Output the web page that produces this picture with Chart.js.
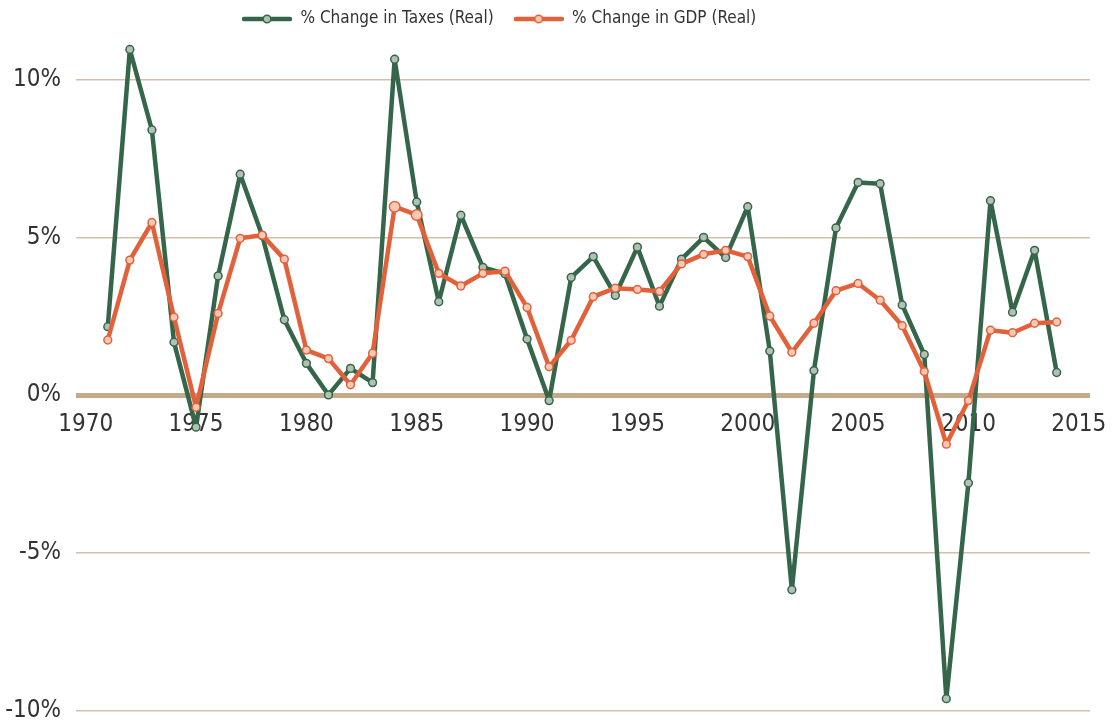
<!DOCTYPE html>
<html><head><meta charset="utf-8">
<script src="https://cdn.jsdelivr.net/npm/chart.js@4.4.1/dist/chart.umd.min.js"></script>
<style>html,body{margin:0;padding:0;background:#fff;overflow:hidden}#wrap{width:1117px;height:721px;position:relative}</style>
</head><body><div id="wrap"><canvas id="c"></canvas></div>
<script>
const years = [1971,1972,1973,1974,1975,1976,1977,1978,1979,1980,1981,1982,1983,1984,1985,1986,1987,1988,1989,1990,1991,1992,1993,1994,1995,1996,1997,1998,1999,2000,2001,2002,2003,2004,2005,2006,2007,2008,2009,2010,2011,2012,2013,2014];
const taxesReal = [2.17,10.95,8.40,1.68,-1.01,3.78,7.00,5.05,2.39,1.01,0.01,0.85,0.40,10.64,6.12,2.96,5.70,4.05,3.85,1.78,-0.17,3.73,4.39,3.16,4.69,2.82,4.31,5.00,4.36,5.97,1.40,-6.16,0.78,5.30,6.74,6.70,2.86,1.29,-9.61,-2.78,6.16,2.63,4.59,0.72];
const gdpReal = [1.75,4.28,5.47,2.47,-0.38,2.59,4.97,5.07,4.31,1.43,1.16,0.33,1.33,5.97,5.71,3.86,3.46,3.86,3.93,2.78,0.90,1.74,3.12,3.39,3.35,3.29,4.16,4.46,4.59,4.39,2.51,1.36,2.28,3.31,3.54,3.01,2.20,0.75,-1.55,-0.17,2.06,1.98,2.28,2.32];
const seriesLabels = ['% Change in Taxes (Real)', '% Change in GDP (Real)'];
const xTickValues = [1970,1975,1980,1985,1990,1995,2000,2005,2010,2015];
const yTickValues = [-10,-5,0,5,10];
const highlightedYears = [1984,1985];

const GREEN = '#35664a', GREEN_FILL = '#b2c1b3';
const ORANGE = '#e2603a', ORANGE_FILL = '#f8c9b5';
const TEXT = '#333333';
const FONT = "'DejaVu Sans Condensed', 'Liberation Sans Narrow', sans-serif";

function legendIcon(line, fill) {
  const c = document.createElement('canvas');
  c.width = 50; c.height = 14;
  const g = c.getContext('2d');
  g.strokeStyle = line; g.lineWidth = 4.5; g.lineCap = 'round';
  g.beginPath(); g.moveTo(2, 7); g.lineTo(48, 7); g.stroke();
  g.beginPath(); g.arc(25, 7, 3.8, 0, Math.PI * 2);
  g.fillStyle = fill; g.fill(); g.lineWidth = 1.5; g.stroke();
  return c;
}
const icons = [legendIcon(GREEN, GREEN_FILL), legendIcon(ORANGE, ORANGE_FILL)];

const legendPlacer = {
  id: 'legendPlacer',
  afterLayout(chart) {
    const lg = chart.legend;
    if (!lg) return;
    const pad = lg.options.labels.padding;
    const w = lg.right - lg.left;
    lg.left = 242 - pad; lg.right = lg.left + w;
    lg.top = 19 - pad - lg.options.labels.font.size / 2;
  }
};

new Chart(document.getElementById('c'), {
  type: 'line',
  data: {
    datasets: [
      {
        label: seriesLabels[0],
        data: years.map((yr, i) => ({x: yr, y: taxesReal[i]})),
        borderColor: GREEN, backgroundColor: GREEN_FILL,
        borderWidth: 4.5, borderJoinStyle: 'round', pointRadius: 3.9, pointBorderWidth: 1.5,
        pointBackgroundColor: GREEN_FILL, pointBorderColor: GREEN,
        tension: 0, clip: false, order: 1
      },
      {
        label: seriesLabels[1],
        data: years.map((yr, i) => ({x: yr, y: gdpReal[i]})),
        borderColor: ORANGE, backgroundColor: ORANGE_FILL,
        borderWidth: 4.5, borderJoinStyle: 'round',
        pointRadius: years.map(yr => highlightedYears.includes(yr) ? 5.3 : 3.9),
        pointBorderWidth: 1.5,
        pointBackgroundColor: ORANGE_FILL, pointBorderColor: ORANGE,
        tension: 0, clip: false, order: 0
      }
    ]
  },
  options: {
    responsive: true, maintainAspectRatio: false, animation: false, events: [],
    layout: { padding: { left: 0, right: 27, top: 0, bottom: 10 } },
    plugins: {
      tooltip: { enabled: false },
      legend: {
        position: 'top', align: 'start', maxHeight: 40,
        labels: {
          usePointStyle: true, pointStyleWidth: 50, padding: 20,
          color: TEXT, font: { family: FONT, size: 17 },
          sort: (a, b) => a.datasetIndex - b.datasetIndex,
          generateLabels: (chart) => Chart.defaults.plugins.legend.labels.generateLabels(chart)
            .map(l => Object.assign(l, { pointStyle: icons[l.datasetIndex] }))
        }
      }
    },
    scales: {
      x: {
        type: 'linear', position: { y: 0 }, min: 1969.56, max: 2015.51,
        grid: { display: false, drawTicks: false }, border: { display: false },
        afterBuildTicks: s => { s.ticks = xTickValues.map(v => ({ value: v })); },
        afterFit: s => { s.height = 0; s.paddingLeft = 0; s.paddingRight = 0; },
        ticks: { color: TEXT, font: { family: FONT, size: 24 }, padding: 15, maxRotation: 0, autoSkip: false,
          callback: v => String(v) }
      },
      y: {
        type: 'linear', min: -10, max: 11.25,
        grid: { drawTicks: false,
          color: c => c.tick && c.tick.value === 0 ? '#c4aa8b' : '#d3c0aa',
          lineWidth: c => c.tick && c.tick.value === 0 ? 5 : 1.5 },
        border: { display: false },
        afterBuildTicks: s => { s.ticks = yTickValues.map(v => ({ value: v })); },
        afterFit: s => { s.width = 76; s.paddingTop = 0; s.paddingBottom = 0; },
        ticks: { color: TEXT, font: { family: FONT, size: 24 }, padding: 15,
          callback: v => v + '%' }
      }
    }
  },
  plugins: [legendPlacer]
});
</script></body></html>
